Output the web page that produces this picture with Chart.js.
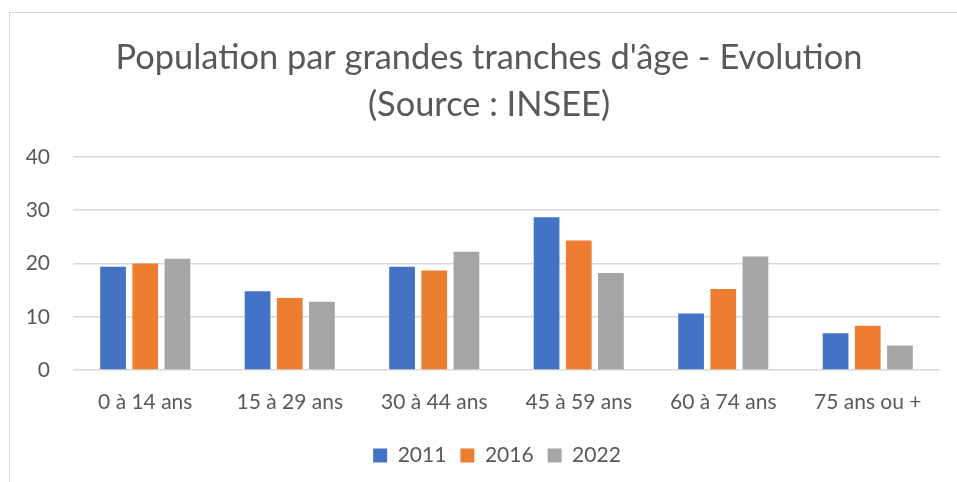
<!DOCTYPE html>
<html>
<head>
<meta charset="utf-8">
<script src="https://cdn.jsdelivr.net/npm/chart.js@4"></script>
<style>
  html, body { margin: 0; padding: 0; background: #fff; overflow: hidden; }
  #frame { position: absolute; left: 9px; top: 12px; width: 1000px; height: 600px; border-top: 1.5px solid #d9d9d9; border-left: 1.5px solid #d9d9d9; }
  #wrap { position: absolute; left: 0; top: 0; width: 957px; height: 482px; }
</style>
</head>
<body>
<div id="frame"></div>
<div id="wrap"><canvas id="chart"></canvas></div>
<script>
  'use strict';

  const categories = ['0 à 14 ans', '15 à 29 ans', '30 à 44 ans', '45 à 59 ans', '60 à 74 ans', '75 ans ou +'];
  const years = ['2011', '2016', '2022'];
  const values2011 = [19.4, 14.8, 19.4, 28.7, 10.6, 6.9];
  const values2016 = [20.0, 13.5, 18.7, 24.3, 15.2, 8.3];
  const values2022 = [20.9, 12.8, 22.2, 18.2, 21.3, 4.6];
  const yTicks = [0, 10, 20, 30, 40];
  const titleLines = ["Population par grandes tranches d'âge - Evolution", '(Source : INSEE)'];

  const colors = ['#4472C4', '#ED7D31', '#A5A5A5'];
  const textColor = '#595959';
  const font = 'Lato';

  const series = [values2011, values2016, values2022];

  // the title and legend sit centred on the whole frame, not on the chart area
  const shiftBlocks = {
    id: 'shiftBlocks',
    afterLayout(chart) {
      chart.titleBlock.left += 19;
      chart.titleBlock.right += 19;
      chart.legend.left += 27;
      chart.legend.right += 27;
    },
  };

  new Chart(document.getElementById('chart'), {
    type: 'bar',
    data: {
      labels: categories,
      datasets: years.map((y, i) => ({
        label: y,
        data: series[i],
        backgroundColor: colors[i],
        borderWidth: 0,
        barPercentage: 0.8,
        categoryPercentage: 0.668,
      })),
    },
    options: {
      responsive: true,
      maintainAspectRatio: false,
      animation: false,
      layout: { padding: { left: 0, right: 17, top: 0, bottom: 6 } },
      plugins: {
        title: {
          display: true,
          text: titleLines,
          color: textColor,
          font: { family: font, size: 34.4, weight: 'normal', lineHeight: 1.38 },
          padding: { top: 34, bottom: 28 },
        },
        legend: {
          position: 'bottom',
          labels: {
            color: textColor,
            font: { family: font, size: 21 },
            boxWidth: 14,
            boxHeight: 14,
            padding: 14,
          },
        },
        tooltip: { enabled: false },
      },
      scales: {
        x: {
          grid: { display: false, drawTicks: false },
          border: { display: false },
          afterFit: s => { s.height = 61; },
          ticks: { color: textColor, font: { family: font, size: 21 }, padding: 20 },
        },
        y: {
          min: yTicks[0],
          max: yTicks[yTicks.length - 1],
          afterBuildTicks: s => { s.ticks = yTicks.map(v => ({ value: v })); },
          afterFit: s => { s.width = 73; },
          grid: { color: '#d9d9d9', lineWidth: 1.5, drawTicks: false },
          border: { display: false },
          ticks: { color: textColor, font: { family: font, size: 21 }, padding: 23 },
        },
      },
    },
    plugins: [shiftBlocks],
  });
</script>
</body>
</html>
